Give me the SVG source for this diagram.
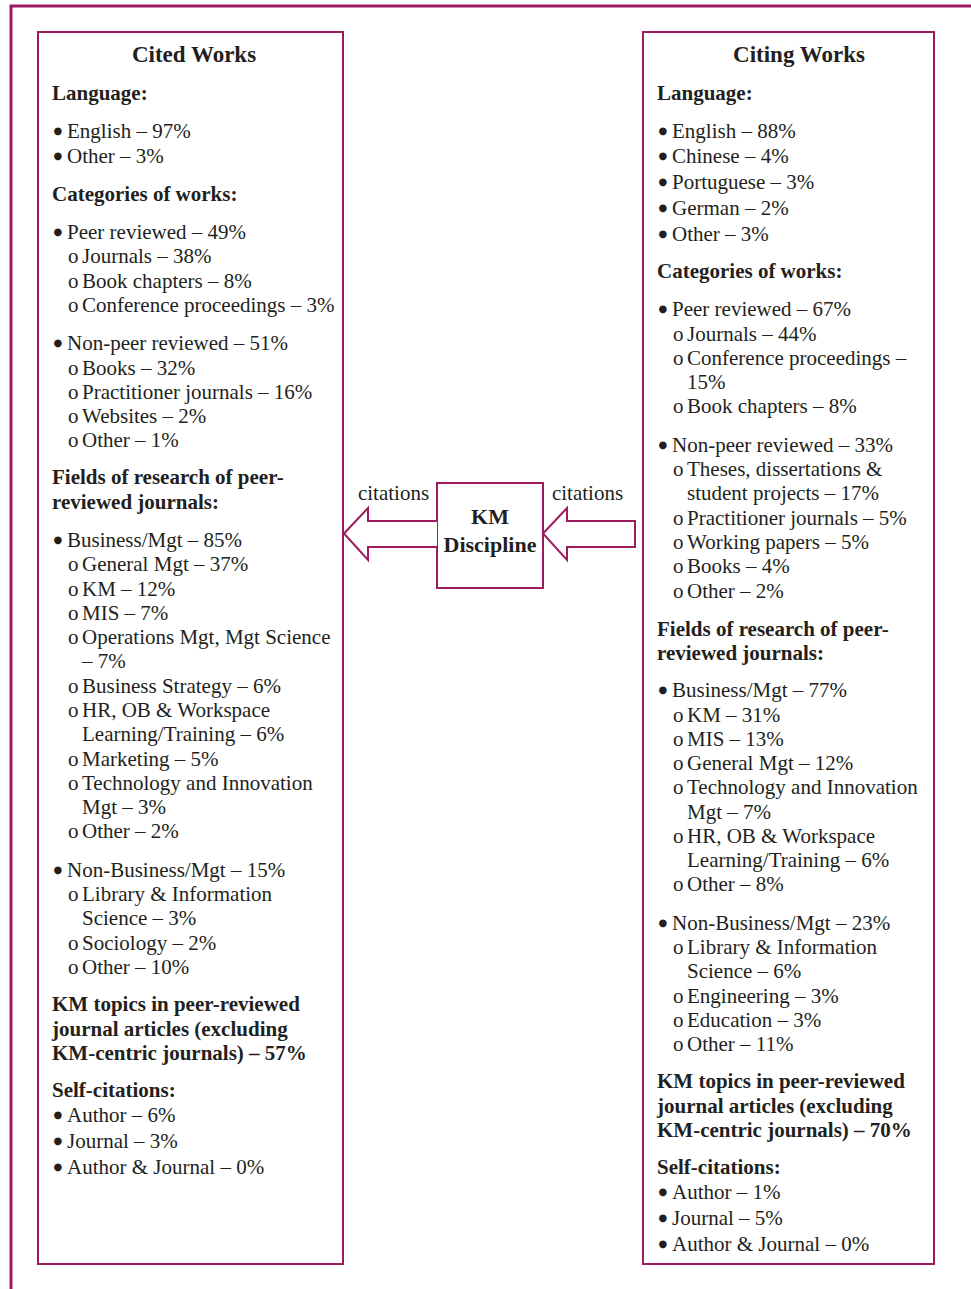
<svg xmlns="http://www.w3.org/2000/svg" width="971" height="1289" viewBox="0 0 971 1289">
<style>
text{font-family:"Liberation Serif","Times New Roman",serif;fill:#231f20}
.t{font-size:21px}
.h{font-size:21px;font-weight:bold}
.ti{font-size:23px;font-weight:bold;text-anchor:middle}
.km{font-size:22px;font-weight:bold;text-anchor:middle}
.b{font-family:"DejaVu Sans",sans-serif;font-size:10px}
.box{fill:#fff;stroke:#9e1a5f;stroke-width:2}
.frame{fill:none;stroke:#9b1b5e;stroke-width:3}
.arrow{fill:#fff;stroke:#9e1a5f;stroke-width:2;stroke-linejoin:miter}
</style>
<rect width="971" height="1289" fill="#fff"/>
<path class="frame" d="M11,1289 V6 H971"/>

<g id="cited-works">
<rect class="box" x="38" y="32" width="305" height="1232"/>
<text class="ti" x="194" y="62">Cited Works</text>
<text class="h" x="52" y="100">Language:</text>
<text class="t" y="138"><tspan class="b" x="53.5" dy="-4.5">●</tspan><tspan x="67" dy="4.5">English – 97%</tspan></text>
<text class="t" y="163"><tspan class="b" x="53.5" dy="-4.5">●</tspan><tspan x="67" dy="4.5">Other – 3%</tspan></text>
<text class="h" x="52" y="201">Categories of works:</text>
<text class="t" y="239"><tspan class="b" x="53.5" dy="-4.5">●</tspan><tspan x="67" dy="4.5">Peer reviewed – 49%</tspan></text>
<text class="t" x="68" y="263">o<tspan x="82">Journals – 38%</tspan></text>
<text class="t" x="68" y="288">o<tspan x="82">Book chapters – 8%</tspan></text>
<text class="t" x="68" y="312">o<tspan x="82">Conference proceedings – 3%</tspan></text>
<text class="t" y="350"><tspan class="b" x="53.5" dy="-4.5">●</tspan><tspan x="67" dy="4.5">Non-peer reviewed – 51%</tspan></text>
<text class="t" x="68" y="375">o<tspan x="82">Books – 32%</tspan></text>
<text class="t" x="68" y="399">o<tspan x="82">Practitioner journals – 16%</tspan></text>
<text class="t" x="68" y="423">o<tspan x="82">Websites – 2%</tspan></text>
<text class="t" x="68" y="447">o<tspan x="82">Other – 1%</tspan></text>
<text class="h" x="52" y="484">Fields of research of peer-</text>
<text class="h" x="52" y="509">reviewed journals:</text>
<text class="t" y="547"><tspan class="b" x="53.5" dy="-4.5">●</tspan><tspan x="67" dy="4.5">Business/Mgt – 85%</tspan></text>
<text class="t" x="68" y="571">o<tspan x="82">General Mgt – 37%</tspan></text>
<text class="t" x="68" y="596">o<tspan x="82">KM – 12%</tspan></text>
<text class="t" x="68" y="620">o<tspan x="82">MIS – 7%</tspan></text>
<text class="t" x="68" y="644">o<tspan x="82">Operations Mgt, Mgt Science</tspan></text>
<text class="t" x="82" y="668">– 7%</text>
<text class="t" x="68" y="693">o<tspan x="82">Business Strategy – 6%</tspan></text>
<text class="t" x="68" y="717">o<tspan x="82">HR, OB &amp; Workspace</tspan></text>
<text class="t" x="82" y="741">Learning/Training – 6%</text>
<text class="t" x="68" y="766">o<tspan x="82">Marketing – 5%</tspan></text>
<text class="t" x="68" y="790">o<tspan x="82">Technology and Innovation</tspan></text>
<text class="t" x="82" y="814">Mgt – 3%</text>
<text class="t" x="68" y="838">o<tspan x="82">Other – 2%</tspan></text>
<text class="t" y="877"><tspan class="b" x="53.5" dy="-4.5">●</tspan><tspan x="67" dy="4.5">Non-Business/Mgt – 15%</tspan></text>
<text class="t" x="68" y="901">o<tspan x="82">Library &amp; Information</tspan></text>
<text class="t" x="82" y="925">Science – 3%</text>
<text class="t" x="68" y="950">o<tspan x="82">Sociology – 2%</tspan></text>
<text class="t" x="68" y="974">o<tspan x="82">Other – 10%</tspan></text>
<text class="h" x="52" y="1011">KM topics in peer-reviewed</text>
<text class="h" x="52" y="1036">journal articles (excluding</text>
<text class="h" x="52" y="1060">KM-centric journals) – 57%</text>
<text class="h" x="52" y="1097">Self-citations:</text>
<text class="t" y="1122"><tspan class="b" x="53.5" dy="-4.5">●</tspan><tspan x="67" dy="4.5">Author – 6%</tspan></text>
<text class="t" y="1148"><tspan class="b" x="53.5" dy="-4.5">●</tspan><tspan x="67" dy="4.5">Journal – 3%</tspan></text>
<text class="t" y="1174"><tspan class="b" x="53.5" dy="-4.5">●</tspan><tspan x="67" dy="4.5">Author &amp; Journal – 0%</tspan></text>
</g>

<g id="citing-works">
<rect class="box" x="643" y="32" width="291" height="1232"/>
<text class="ti" x="799" y="62">Citing Works</text>
<text class="h" x="657" y="100">Language:</text>
<text class="t" y="138"><tspan class="b" x="658.5" dy="-4.5">●</tspan><tspan x="672" dy="4.5">English – 88%</tspan></text>
<text class="t" y="163"><tspan class="b" x="658.5" dy="-4.5">●</tspan><tspan x="672" dy="4.5">Chinese – 4%</tspan></text>
<text class="t" y="189"><tspan class="b" x="658.5" dy="-4.5">●</tspan><tspan x="672" dy="4.5">Portuguese – 3%</tspan></text>
<text class="t" y="215"><tspan class="b" x="658.5" dy="-4.5">●</tspan><tspan x="672" dy="4.5">German – 2%</tspan></text>
<text class="t" y="241"><tspan class="b" x="658.5" dy="-4.5">●</tspan><tspan x="672" dy="4.5">Other – 3%</tspan></text>
<text class="h" x="657" y="278">Categories of works:</text>
<text class="t" y="316"><tspan class="b" x="658.5" dy="-4.5">●</tspan><tspan x="672" dy="4.5">Peer reviewed – 67%</tspan></text>
<text class="t" x="673" y="341">o<tspan x="687">Journals – 44%</tspan></text>
<text class="t" x="673" y="365">o<tspan x="687">Conference proceedings –</tspan></text>
<text class="t" x="687" y="389">15%</text>
<text class="t" x="673" y="413">o<tspan x="687">Book chapters – 8%</tspan></text>
<text class="t" y="452"><tspan class="b" x="658.5" dy="-4.5">●</tspan><tspan x="672" dy="4.5">Non-peer reviewed – 33%</tspan></text>
<text class="t" x="673" y="476">o<tspan x="687">Theses, dissertations &amp;</tspan></text>
<text class="t" x="687" y="500">student projects – 17%</text>
<text class="t" x="673" y="525">o<tspan x="687">Practitioner journals – 5%</tspan></text>
<text class="t" x="673" y="549">o<tspan x="687">Working papers – 5%</tspan></text>
<text class="t" x="673" y="573">o<tspan x="687">Books – 4%</tspan></text>
<text class="t" x="673" y="598">o<tspan x="687">Other – 2%</tspan></text>
<text class="h" x="657" y="636">Fields of research of peer-</text>
<text class="h" x="657" y="660">reviewed journals:</text>
<text class="t" y="697"><tspan class="b" x="658.5" dy="-4.5">●</tspan><tspan x="672" dy="4.5">Business/Mgt – 77%</tspan></text>
<text class="t" x="673" y="722">o<tspan x="687">KM – 31%</tspan></text>
<text class="t" x="673" y="746">o<tspan x="687">MIS – 13%</tspan></text>
<text class="t" x="673" y="770">o<tspan x="687">General Mgt – 12%</tspan></text>
<text class="t" x="673" y="794">o<tspan x="687">Technology and Innovation</tspan></text>
<text class="t" x="687" y="819">Mgt – 7%</text>
<text class="t" x="673" y="843">o<tspan x="687">HR, OB &amp; Workspace</tspan></text>
<text class="t" x="687" y="867">Learning/Training – 6%</text>
<text class="t" x="673" y="891">o<tspan x="687">Other – 8%</tspan></text>
<text class="t" y="930"><tspan class="b" x="658.5" dy="-4.5">●</tspan><tspan x="672" dy="4.5">Non-Business/Mgt – 23%</tspan></text>
<text class="t" x="673" y="954">o<tspan x="687">Library &amp; Information</tspan></text>
<text class="t" x="687" y="978">Science – 6%</text>
<text class="t" x="673" y="1003">o<tspan x="687">Engineering – 3%</tspan></text>
<text class="t" x="673" y="1027">o<tspan x="687">Education – 3%</tspan></text>
<text class="t" x="673" y="1051">o<tspan x="687">Other – 11%</tspan></text>
<text class="h" x="657" y="1088">KM topics in peer-reviewed</text>
<text class="h" x="657" y="1113">journal articles (excluding</text>
<text class="h" x="657" y="1137">KM-centric journals) – 70%</text>
<text class="h" x="657" y="1174">Self-citations:</text>
<text class="t" y="1199"><tspan class="b" x="658.5" dy="-4.5">●</tspan><tspan x="672" dy="4.5">Author – 1%</tspan></text>
<text class="t" y="1225"><tspan class="b" x="658.5" dy="-4.5">●</tspan><tspan x="672" dy="4.5">Journal – 5%</tspan></text>
<text class="t" y="1251"><tspan class="b" x="658.5" dy="-4.5">●</tspan><tspan x="672" dy="4.5">Author &amp; Journal – 0%</tspan></text>
</g>

<g id="km-discipline">
<rect class="box" x="437" y="483" width="106" height="105"/>
<text class="km" x="490" y="524">KM</text>
<text class="km" x="490" y="552">Discipline</text>
</g>

<g id="connectors">
<path class="arrow" d="M437,521 H368 V508 L344,533.5 L368,560 V547 H437"/>
<path class="arrow" d="M635,521 H567 V508 L543,533.5 L567,560 V547 H635 Z"/>
<text class="t" x="393.5" y="500" text-anchor="middle">citations</text>
<text class="t" x="587.5" y="500" text-anchor="middle">citations</text>
</g>
</svg>
